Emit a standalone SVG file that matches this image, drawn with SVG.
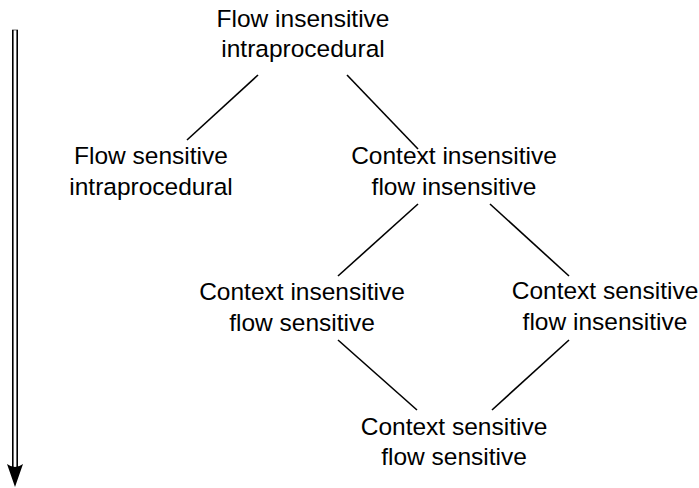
<svg xmlns="http://www.w3.org/2000/svg" width="699" height="488" viewBox="0 0 699 488">
<style>
text{font-family:"Liberation Sans","DejaVu Sans",sans-serif;font-size:24.5px;fill:#000;text-anchor:middle}
.e{stroke:#000;stroke-width:1.6;fill:none}
</style>
<rect width="699" height="488" fill="#fff"/>
<g id="arrow">
<line class="e" x1="12.8" y1="30" x2="12.8" y2="470"/>
<line class="e" x1="17.2" y1="30" x2="17.2" y2="470"/>
<line x1="12" y1="30" x2="18" y2="30" stroke="#000" stroke-width="0.6"/>
<path d="M15 487 L7 464 Q15 470 23 464 Z" fill="#000"/>
</g>
<g id="connectors">
<line class="e" x1="258" y1="75" x2="187" y2="140"/>
<line class="e" x1="347" y1="75" x2="418" y2="149"/>
<line class="e" x1="418" y1="204" x2="338" y2="276"/>
<line class="e" x1="490" y1="204" x2="569" y2="276"/>
<line class="e" x1="338" y1="340" x2="417" y2="410"/>
<line class="e" x1="569" y1="340" x2="492" y2="410"/>
</g>
<g id="n1"><text x="303" y="27">Flow insensitive</text><text x="303" y="57">intraprocedural</text></g>
<g id="n2"><text x="151" y="164">Flow sensitive</text><text x="151" y="195">intraprocedural</text></g>
<g id="n3"><text x="454" y="164">Context insensitive</text><text x="454" y="195">flow insensitive</text></g>
<g id="n4"><text x="302" y="300">Context insensitive</text><text x="302" y="331">flow sensitive</text></g>
<g id="n5"><text x="605" y="299">Context sensitive</text><text x="605" y="330">flow insensitive</text></g>
<g id="n6"><text x="454" y="435">Context sensitive</text><text x="454" y="465">flow sensitive</text></g>
</svg>
